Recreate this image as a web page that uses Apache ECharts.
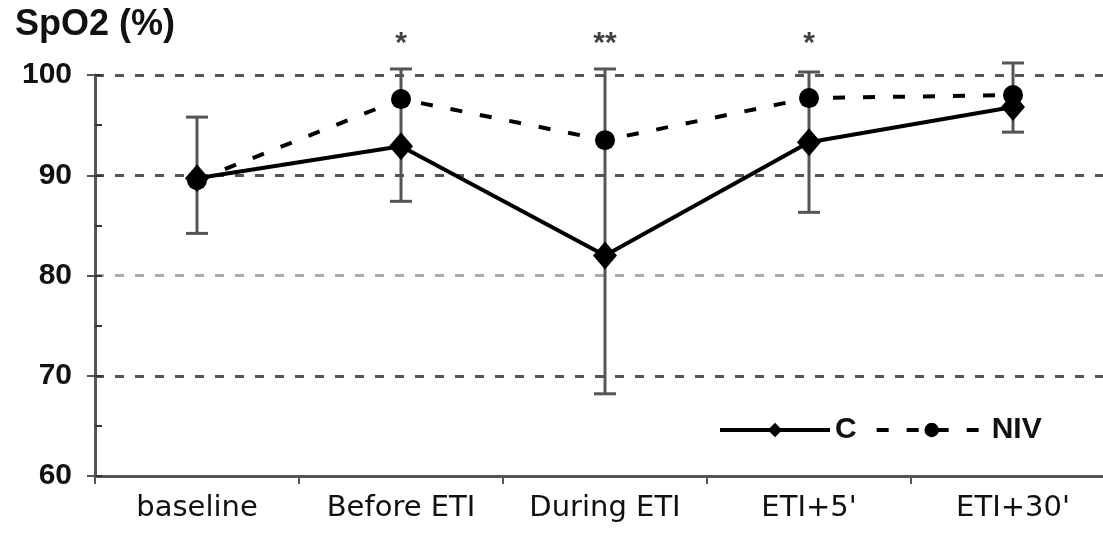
<!DOCTYPE html>
<html>
<head>
<meta charset="utf-8">
<script src="https://cdn.jsdelivr.net/npm/echarts@6/dist/echarts.min.js"></script>
<style>html,body{margin:0;padding:0;background:#fff;}#chart{width:1103px;height:533px;}</style>
</head>
<body>
<div id="chart"></div>
<script>
const categories = ['baseline', 'Before ETI', 'During ETI', "ETI+5'", "ETI+30'"];
const cValues = [89.7, 92.9, 82.0, 93.3, 96.8];
const nivValues = [89.5, 97.6, 93.5, 97.7, 98.0];
const errLow = [84.2, 87.4, 68.2, 86.3, 94.3];    // lower bar end (C)
const errHigh = [95.8, 100.6, 100.6, 100.3, 101.2]; // upper bar end (NIV)
const sigLabels = ['', '*', '**', '*', ''];
const yTicks = [60, 70, 80, 90, 100];

const chart = echarts.init(document.getElementById('chart'), null, {renderer: 'canvas'});

const errData = categories.map((c, i) => [i, errLow[i], errHigh[i]]);
const sigData = categories.map((c, i) => ({value: [i, yTicks[yTicks.length - 1]], label: sigLabels[i]}));

const option = {
  animation: false,
  backgroundColor: '#fff',
  title: {
    text: 'SpO2 (%)',
    left: 10, top: 2,
    textStyle: {fontFamily: 'Liberation Sans', fontWeight: 'bold', fontSize: 36, color: '#111'}
  },
  legend: {
    data: ['C', 'NIV'],
    left: 713, top: 410,
    itemWidth: 110, itemHeight: 18, itemGap: 18,
    lineStyle: {width: 4},
    textStyle: {fontFamily: 'Liberation Sans', fontWeight: 'bold', fontSize: 30, color: '#111'}
  },
  grid: {left: 95, width: 1020, top: 75, bottom: 57, containLabel: false, outerBoundsMode: 'none'},
  xAxis: {
    type: 'category',
    data: categories,
    boundaryGap: true,
    axisLine: {lineStyle: {color: '#555', width: 3}},
    axisTick: {show: true, length: 8, lineStyle: {color: '#555', width: 2}},
    axisLabel: {interval: 0, fontFamily: 'DejaVu Sans', fontSize: 29, color: '#111', margin: 18}
  },
  yAxis: [{
    type: 'value', min: 60, max: 100, interval: 10,
    axisLine: {show: true, lineStyle: {color: '#555', width: 3}},
    axisTick: {show: true, length: 8, lineStyle: {color: '#555', width: 2}},
    axisLabel: {fontFamily: 'Liberation Sans', fontWeight: 'bold', fontSize: 30, color: '#111', margin: 23},
    splitLine: {show: true, lineStyle: {type: [9, 11], width: 3, color: ['#555', '#555', '#aaa', '#555', '#555']}}
  }, {
    type: 'value', min: 60, max: 100, interval: 5, position: 'left',
    axisLine: {show: false},
    axisTick: {show: true, inside: true, length: 7, lineStyle: {color: '#333', width: 2}},
    axisLabel: {show: false},
    splitLine: {show: false}
  }],
  series: [
    {
      type: 'custom',
      name: 'err',
      z: 1,
      data: errData,
      renderItem: function (params, api) {
        const x = api.value(0);
        const lo = api.coord([x, api.value(1)]);
        const hi = api.coord([x, api.value(2)]);
        const hw = 11;
        const st = {stroke: '#555', lineWidth: 3};
        return {
          type: 'group',
          children: [
            {type: 'line', shape: {x1: lo[0], y1: lo[1], x2: hi[0], y2: hi[1]}, style: st},
            {type: 'line', shape: {x1: lo[0] - hw, y1: lo[1], x2: lo[0] + hw, y2: lo[1]}, style: st},
            {type: 'line', shape: {x1: hi[0] - hw, y1: hi[1], x2: hi[0] + hw, y2: hi[1]}, style: st}
          ]
        };
      }
    },
    {
      name: 'NIV',
      type: 'line',
      z: 3,
      data: nivValues,
      symbol: 'circle',
      symbolSize: 20,
      itemStyle: {color: '#000'},
      lineStyle: {color: '#000', width: 4, type: [12, 18]}
    },
    {
      name: 'C',
      type: 'line',
      z: 4,
      data: cValues,
      symbol: 'diamond',
      symbolSize: [24, 28],
      itemStyle: {color: '#000'},
      lineStyle: {color: '#000', width: 4, type: 'solid'}
    },
    {
      type: 'scatter',
      name: 'sig',
      clip: false,
      symbolSize: 0,
      data: sigData,
      label: {
        show: true, position: 'inside', offset: [0, -31],
        formatter: p => p.data.label,
        fontFamily: 'Liberation Sans', fontWeight: 'bold', fontSize: 30, color: '#111'
      }
    }
  ]
};
chart.setOption(option);
</script>
</body>
</html>
